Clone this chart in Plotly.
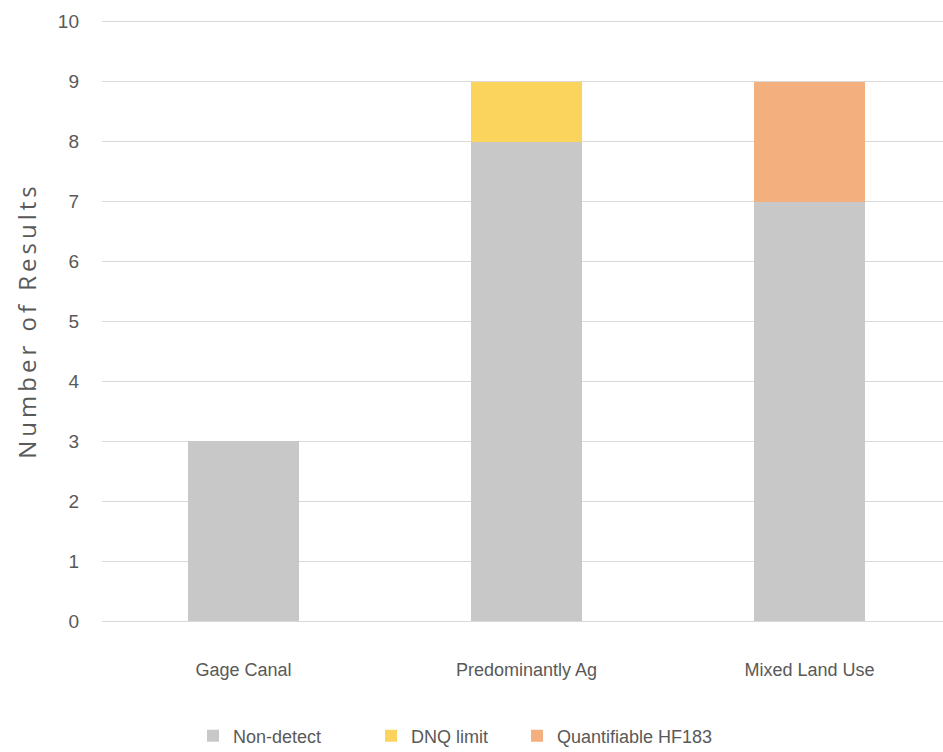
import plotly.graph_objects as go

categories = ["Gage Canal", "Predominantly Ag", "Mixed Land Use"]
non_detect = [3, 8, 7]
dnq_limit = [0, 1, 0]
quantifiable = [0, 0, 2]
y_ticks = list(range(0, 11))

font_main = "Liberation Sans Narrow, Liberation Sans, Arial"
gray_text = "#595959"

fig = go.Figure()
fig.add_trace(go.Bar(x=categories, y=non_detect, name="Non-detect", marker_color="#C8C8C8",
                     legend="legend"))
fig.add_trace(go.Bar(x=categories, y=dnq_limit, name="DNQ limit", marker_color="#FBD45E",
                     legend="legend2"))
fig.add_trace(go.Bar(x=categories, y=quantifiable, name="Quantifiable HF183", marker_color="#F3AF7E",
                     legend="legend3"))

fig.update_traces(marker_line_width=0, hoverinfo="skip")

def leg(xpx):
    return dict(orientation="h", x=xpx / 943, xanchor="left", xref="container",
                y=(752 - 736) / 752, yref="container", yanchor="middle",
                font=dict(size=18, family=font_main, color=gray_text),
                itemwidth=30, bgcolor="rgba(0,0,0,0)")

fig.update_layout(
    width=943, height=752,
    barmode="stack", bargap=0.61,
    paper_bgcolor="white", plot_bgcolor="white",
    margin=dict(l=102, r=0, t=20, b=131),
    font=dict(family=font_main, color=gray_text, size=18),
    showlegend=True,
    legend=leg(193), legend2=leg(371), legend3=leg(517),
    xaxis=dict(range=[-0.5, 2.472], showgrid=False, showline=True, linecolor="#D9D9D9",
               linewidth=1, ticks="", tickfont=dict(size=18), ticklabelstandoff=32),
    yaxis=dict(range=[0, 10.03], tickvals=y_ticks, showgrid=True, gridcolor="#D9D9D9",
               gridwidth=1, zeroline=False, showline=False, ticks="",
               tickfont=dict(size=19), ticklabelstandoff=22,
               title=dict(text="Number of Results",
                          font=dict(family="Open Sans, Liberation Sans", size=24, color=gray_text),
                          standoff=14)),
)

post = """
var t = document.querySelectorAll('.ytitle');
t.forEach(function(e){ e.style.letterSpacing = '4px'; });
"""
fig.write_html("out.html", post_script=post)
